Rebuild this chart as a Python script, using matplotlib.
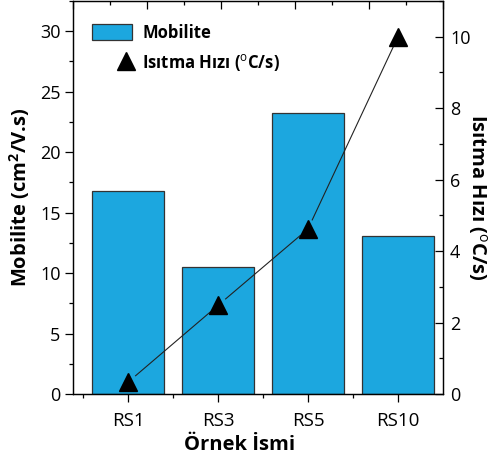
import matplotlib
matplotlib.use("Agg")
import matplotlib.pyplot as plt
import numpy as np
from matplotlib.patches import Patch
from matplotlib.lines import Line2D
from matplotlib.legend_handler import HandlerLine2D
from matplotlib.ticker import MultipleLocator

plt.rcParams['font.family'] = ['Open Sans', 'DejaVu Sans']
plt.rcParams['mathtext.fontset'] = 'custom'
plt.rcParams['mathtext.rm'] = 'Open Sans'
plt.rcParams['mathtext.bf'] = 'Open Sans:bold'

samples = ["RS1", "RS3", "RS5", "RS10"]
mobility = [16.8, 10.5, 23.25, 13.1]
heating_rate = [0.33, 2.48, 4.62, 10.0]

bar_color = "#1ca7df"

fig = plt.figure(figsize=(4.98, 4.65), dpi=100)
ax = fig.add_axes([73/498, 1-394/465, 370/498, 393/465])
x = np.arange(len(samples))
ax.bar(x, mobility, width=0.8, color=bar_color, edgecolor="#333333", linewidth=0.9, zorder=2)
ax.set_xlim(-0.611, 3.5)
ax.set_ylim(0, 32.5)
ax.set_xticks(x)
ax.set_xticklabels(samples, fontsize=13.5)
ax.set_xticks(x - 0.5, minor=True)
ax.yaxis.set_major_locator(MultipleLocator(5))
ax.yaxis.set_minor_locator(MultipleLocator(2.5))
ax.tick_params(axis='y', which='major', direction='out', length=6, width=0.9, labelsize=13, pad=3)
ax.tick_params(axis='y', which='minor', direction='out', length=3, width=0.9)
ax.tick_params(axis='x', which='major', direction='out', length=6, width=0.9, pad=7)
ax.tick_params(axis='x', which='minor', direction='out', length=3, width=0.9)
for s in ax.spines.values():
    s.set_linewidth(0.9)
ax.set_ylabel("Mobilite (cm$^{\\mathbf{2}}$/V.s)", fontsize=14.5, fontweight='bold', labelpad=6)
ax.set_xlabel("Örnek İsmi", fontsize=14.5, fontweight='bold', labelpad=3)
ax.xaxis.set_label_coords(0.451, -0.105)

# top axis ticks
axt = ax.twiny()
axt.set_xlim(0, 10)
axt.xaxis.set_major_locator(MultipleLocator(2))
axt.xaxis.set_minor_locator(MultipleLocator(1))
axt.tick_params(axis='x', which='major', direction='in', length=6, width=0.9, labeltop=False)
axt.tick_params(axis='x', which='minor', direction='in', length=3, width=0.9)

ax2 = ax.twinx()
ax2.set_ylim(0, 11)
ax2.yaxis.set_major_locator(MultipleLocator(2))
ax2.yaxis.set_minor_locator(MultipleLocator(1))
ax2.tick_params(axis='y', which='major', direction='in', length=6, width=0.9, labelsize=13, pad=5)
ax2.tick_params(axis='y', which='minor', direction='in', length=3, width=0.9)
ax2.set_ylabel("Isıtma Hızı ($^{\\mathrm{o}}$C/s)", fontsize=14.5, fontweight='bold', rotation=270, labelpad=13)

# connecting line with gaps near markers
pts = ax2.transData.transform(np.column_stack([x, heating_rate]))
gap = 10
inv = ax2.transData.inverted()
for i in range(len(pts) - 1):
    p0, p1 = pts[i], pts[i+1]
    d = p1 - p0
    L = np.hypot(*d)
    u = d / L
    a = inv.transform(p0 + u * gap)
    b = inv.transform(p1 - u * gap)
    ax2.plot([a[0], b[0]], [a[1], b[1]], color="#222222", linewidth=0.8, zorder=3)
ax2.plot(x, heating_rate, linestyle='none', marker='^', markersize=13, color='black', zorder=4)


class RightMarkerHandler(HandlerLine2D):
    def create_artists(self, legend, orig_handle, xdescent, ydescent, width, height, fontsize, trans):
        artists = super().create_artists(legend, orig_handle, xdescent, ydescent, width, height, fontsize, trans)
        shift = width / 2 - 4.5
        for a in artists:
            a.set_xdata(np.asarray(a.get_xdata()) + shift)
        return artists


tri_handle = Line2D([], [], linestyle='none', marker='^', markersize=13, color='black')
handles = [Patch(facecolor=bar_color, edgecolor="#333333", linewidth=0.9), tri_handle]
labels = ["Mobilite", "Isıtma Hızı ($^{\\mathrm{o}}$C/s)"]
leg = ax2.legend(handles, labels, loc='upper left', bbox_to_anchor=(0.012, 0.98), frameon=False,
                 prop={'weight': 'bold', 'size': 12}, handlelength=2.4, handleheight=1.1,
                 handletextpad=0.6, labelspacing=0.6,
                 handler_map={tri_handle: RightMarkerHandler(numpoints=1)})

fig.savefig("out.png", dpi=100)
